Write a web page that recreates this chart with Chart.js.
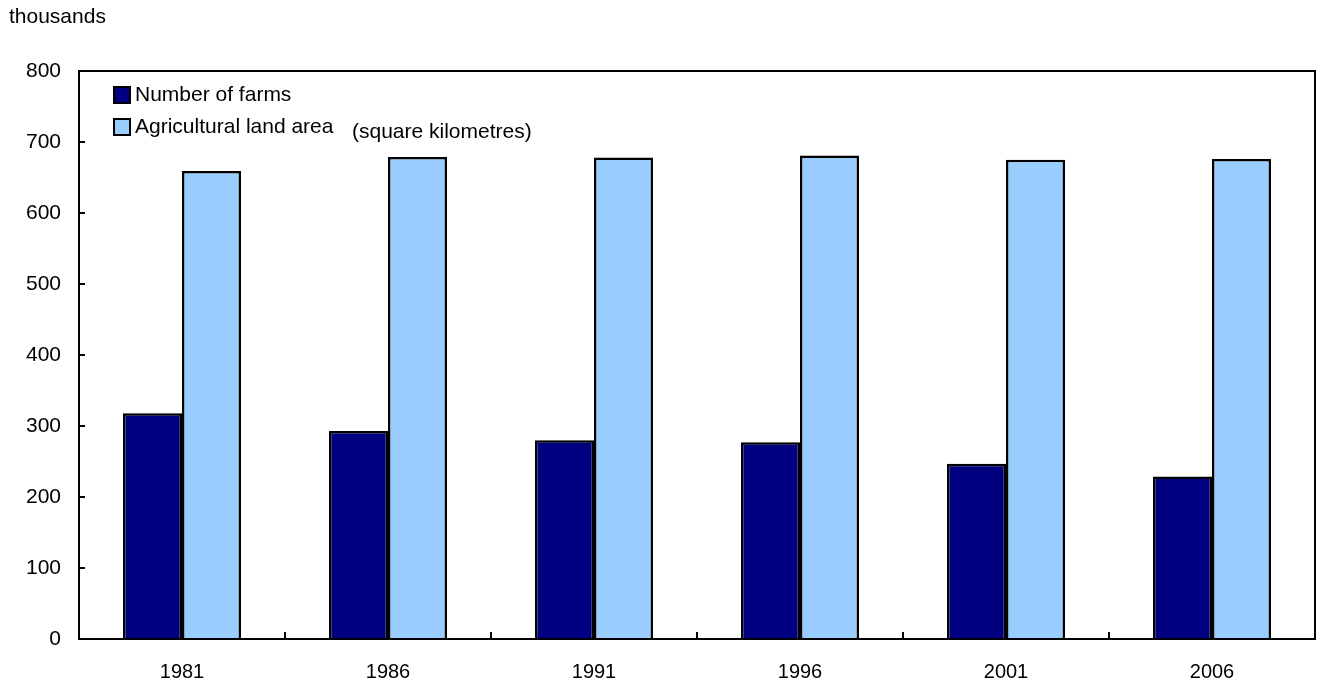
<!DOCTYPE html>
<html>
<head>
<meta charset="utf-8">
<script src="https://cdn.jsdelivr.net/npm/chart.js@4.4.1/dist/chart.umd.min.js"></script>
<style>
  html, body { margin: 0; padding: 0; background: #fff; }
  #wrap { width: 1317px; height: 687px; position: relative; }
</style>
</head>
<body>
<div id="wrap"><canvas id="c"></canvas></div>
<script>
const categories = ['1981', '1986', '1991', '1996', '2001', '2006'];
const farms = [318, 293, 280, 277, 247, 229];
const landArea = [659, 679, 678, 681, 675, 676];
const seriesNames = ['Number of farms', 'Agricultural land area'];
const unitNote = '(square kilometres)';
const yAxisTitle = 'thousands';
const yTickValues = [0, 100, 200, 300, 400, 500, 600, 700, 800];

const FONT = '"Liberation Sans", Arial, Helvetica, sans-serif';

const decorPlugin = {
  id: 'decor',
  afterDraw(chart) {
    const ctx = chart.ctx;
    const ca = chart.chartArea;
    const xs = chart.scales.x, ys = chart.scales.y;
    ctx.save();
    ctx.strokeStyle = '#000';
    ctx.lineWidth = 2;
    // y tick marks (inward)
    yTickValues.forEach(v => {
      const y = Math.round(ys.getPixelForValue(v));
      ctx.beginPath();
      ctx.moveTo(ca.left, y);
      ctx.lineTo(ca.left + 6, y);
      ctx.stroke();
    });
    // x tick marks at category boundaries (inward)
    for (let i = 1; i < categories.length; i++) {
      const x = Math.round((xs.getPixelForValue(i - 1) + xs.getPixelForValue(i)) / 2);
      ctx.beginPath();
      ctx.moveTo(x, ca.bottom);
      ctx.lineTo(x, ca.bottom - 7);
      ctx.stroke();
    }
    // frame
    ctx.strokeRect(ca.left, ca.top, ca.right - ca.left, ca.bottom - ca.top);

    // legend
    ctx.font = '21px ' + FONT;
    ctx.textBaseline = 'middle';
    ctx.textAlign = 'left';
    const ds = chart.data.datasets;
    const rows = [ca.top + 24, ca.top + 56];
    ds.forEach((d, i) => {
      const sx = ca.left + 35, sy = rows[i] - 8;
      ctx.fillStyle = d.backgroundColor;
      ctx.fillRect(sx, sy, 16, 16);
      ctx.lineWidth = 2;
      ctx.strokeStyle = '#000';
      ctx.strokeRect(sx, sy, 16, 16);
      ctx.fillStyle = '#000';
      ctx.fillText(d.label, sx + 21, rows[i]);
    });
    ctx.fillText(unitNote, ca.left + 273, rows[1] + 5);

    // axis unit title
    ctx.fillText(yAxisTitle, 9, 17);
    ctx.restore();
  }
};

new Chart(document.getElementById('c'), {
  type: 'bar',
  data: {
    labels: categories,
    datasets: [
      { label: seriesNames[0], data: farms, backgroundColor: '#000080', borderColor: '#000', borderWidth: 2.5 },
      { label: seriesNames[1], data: landArea, backgroundColor: '#99CCFF', borderColor: '#000', borderWidth: 2.5 }
    ]
  },
  options: {
    responsive: true,
    maintainAspectRatio: false,
    animation: false,
    layout: { padding: { top: 71, right: 2, left: 0, bottom: 0 } },
    datasets: { bar: { categoryPercentage: 0.573, barPercentage: 1.0 } },
    plugins: { legend: { display: false }, tooltip: { enabled: false }, title: { display: false } },
    scales: {
      x: {
        grid: { display: false, drawTicks: false },
        border: { display: false },
        ticks: { color: '#000', font: { family: FONT, size: 20 }, padding: 21 },
        afterFit(s) { s.height = 48; }
      },
      y: {
        min: 0, max: 800,
        grid: { display: false, drawTicks: false },
        border: { display: false },
        ticks: { stepSize: 100, color: '#000', font: { family: FONT, size: 21 }, padding: 18 },
        afterFit(s) { s.width = 79; }
      }
    }
  },
  plugins: [decorPlugin]
});
</script>
</body>
</html>
